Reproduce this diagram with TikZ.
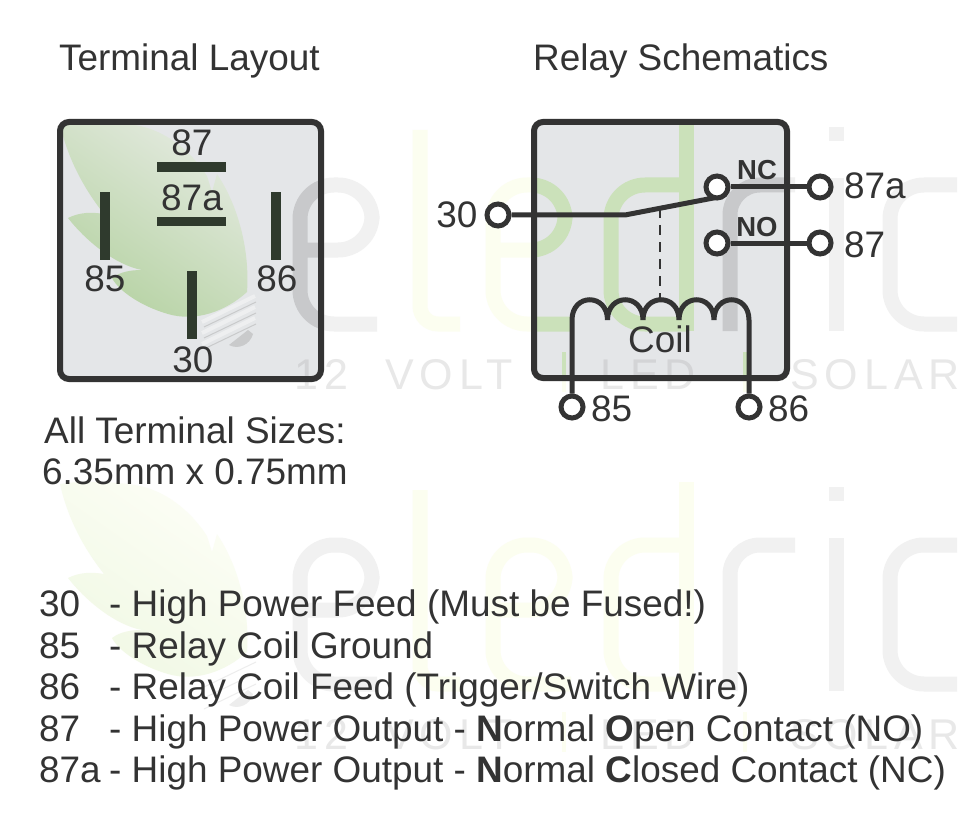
\documentclass[tikz,border=0pt]{standalone}
\usepackage{fontspec}
\setmainfont{Liberation Sans}
\usetikzlibrary{calc}
\definecolor{ink}{HTML}{333333}
\definecolor{pincol}{HTML}{2F3A2D}
\definecolor{boxfill}{HTML}{E4E6E8}
\definecolor{outgray}{HTML}{F1F1F1}
\definecolor{outgreen}{HTML}{FCFEF0}
\definecolor{outtext}{HTML}{E8E8E8}
\definecolor{outleafa}{HTML}{FDFEF6}
\definecolor{outleafb}{HTML}{F0F8E4}
\definecolor{outbulb}{HTML}{EDEDED}
\definecolor{ingray}{HTML}{C8C9CB}
\definecolor{ingreen}{HTML}{CBE1BA}
\definecolor{intext}{HTML}{D3D4D6}
\definecolor{inleafa}{HTML}{E4EAE0}
\definecolor{inleafb}{HTML}{B5D2A2}
\definecolor{instripe}{HTML}{EEEFF0}
\definecolor{inbulb}{HTML}{C9CACB}
\newcommand{\wmlayer}[8]{%
  % #1 gray, #2 green, #3 text, #4 leaf light, #5 leaf dark, #6 stripe, #7 bulb shade, #8 yshift
  \begin{scope}[yshift=#8]
    \shade[left color=#4,right color=#5,shading angle=-35]
       (60,124) .. controls (85,120) and (115,122) .. (135,125)
       .. controls (165,130) and (190,150) .. (207,176) -- (212,192) -- (217,174)
       .. controls (238,205) and (250,250) .. (247,292)
       .. controls (225,312) and (195,322) .. (168,314)
       .. controls (140,306) and (118,290) .. (112,278)
       .. controls (120,272) and (130,270) .. (142,270)
       .. controls (115,265) and (85,240) .. (68,218)
       .. controls (80,212) and (92,212) .. (104,214)
       .. controls (85,190) and (68,160) .. (60,124) -- cycle;
    \foreach \yy in {0,11,22}{
      \draw[#6,line width=4] (202,{322+\yy}) -- (255,{296+\yy});
      \draw[#7,line width=1] (204,{327+\yy}) -- (256,{302+\yy});}
    \fill[#7] (229,345) .. controls (238,350) and (250,345) .. (253,334) -- (248,330) -- cycle;
    \draw[#1,line width=15,rounded corners=34] (377,324) -| (300,185) -| (372,250) -- (300,250);
    \draw[#2,line width=15,rounded corners=18] (420,130) |- (460,324);
    \draw[#2,line width=15,rounded corners=34] (571,324) -| (493,185) -| (565,250) -- (493,250);
    \draw[#2,line width=15,rounded corners=34] (686,185) -| (611,324) -- (686,324);
    \draw[#2,line width=15] (686,122) -- (686,331);
    \draw[#1,line width=15,rounded corners=30] (730,331) |- (795,185);
    \draw[#1,line width=15] (836,178) -- (836,331);
    \draw[#1,line width=15] (836,127) -- (836,141);
    \draw[#1,line width=15,rounded corners=34] (957,185) -| (890,324) -- (957,324);
    \node[wmtext,text=#3] (#8a) at (294,389) {12};
    \node[wmtext,text=#3] (#8b) at (385,389) {VOLT};
    \draw[#2,line width=4] (564,352) -- (564,392);
    \node[wmtext,text=#3] (#8c) at (600,389) {LED};
    \draw[#2,line width=4] (745,352) -- (745,392);
    \node[wmtext,text=#3] (#8d) at (790,389) {SOLAR};
  \end{scope}}
\newcommand{\outerlayer}[1]{\wmlayer{outgray}{outgreen}{outtext}{outleafa}{outleafb}{white}{outbulb}{#1}}
\newcommand{\innerlayer}{\wmlayer{ingray}{ingreen}{intext}{inleafa}{inleafb}{instripe}{inbulb}{0pt}}
\tikzset{
  x=1pt,y=-1pt,
  wmtext/.style={font=\fontsize{43}{43}\selectfont\addfontfeature{LetterSpace=14},inner sep=0pt,anchor=base west},
  lab/.style={font=\fontsize{36.9}{37}\selectfont,text=ink,inner sep=0pt,anchor=base},
  labw/.style={lab,anchor=base west},
  tag/.style={font=\fontsize{27.5}{27.5}\selectfont\bfseries,text=ink,inner sep=0pt,anchor=base},
  panel/.style={draw=ink,line width=6,rounded corners=9},
  pin/.style={fill=pincol},
  term/.style={circle,draw=ink,line width=5,fill=white,minimum size=22,inner sep=0pt},
  wire/.style={draw=ink,line width=5},
}
\begin{document}
\begin{tikzpicture}
\useasboundingbox (0,0) rectangle (970,824);
\fill[white] (0,0) rectangle (970,824);
\outerlayer{0pt}
\outerlayer{-360pt}
\fill[boxfill,rounded corners=9] (60,122) rectangle (321,379);
\fill[boxfill,rounded corners=9] (534,122) rectangle (787,378);
\begin{scope}
  \clip[rounded corners=9] (60,122) rectangle (321,379);
  \innerlayer
\end{scope}
\begin{scope}
  \clip[rounded corners=9] (534,122) rectangle (787,378);
  \innerlayer
\end{scope}
\draw[panel] (60,122) rectangle (321,379);
\draw[panel] (534,122) rectangle (787,378);
% terminal layout
\fill[pin] (157,162) rectangle (226,172);
\fill[pin] (157,217) rectangle (226,226);
\fill[pin] (100,192) rectangle (110,260);
\fill[pin] (271,192) rectangle (281,260);
\fill[pin] (187,271) rectangle (197,339);
\node[lab] (tl87) at (192,155.5) {87};
\node[lab] (tl87a) at (192,210.5) {87a};
\node[lab] (tl85) at (105,291) {85};
\node[lab] (tl86) at (277,291) {86};
\node[lab] (tl30) at (193,372) {30};
\node[labw] (title1) at (59,71) {Terminal Layout};
\node[labw] (title2) at (533,71) {Relay Schematics};
\node[labw] (size1) at (44,443) {All Terminal Sizes:};
\node[labw] (size2) at (42,484) {6.35mm x 0.75mm};
% schematic
\node[term] (t30) at (498,215) {};
\node[term] (nc) at (717,187) {};
\node[term] (no) at (717,243) {};
\node[term] (t87a) at (820,187) {};
\node[term] (t87) at (820,243) {};
\node[term] (t85) at (572,407) {};
\node[term] (t86) at (749,407) {};
\coordinate (knee) at (625,215);
\coordinate (blade) at (716,197.5);
\coordinate (dashtop) at (660,208);
\coordinate (dashbot) at (660,302);
\path[wire,line join=round] (t30) -- (knee) -- (blade);
\path[wire] (nc) -- (t87a);
\path[wire] (no) -- (t87);
\draw[ink,line width=2,dash pattern=on 10 off 7] (dashtop) -- (dashbot);
\coordinate (c0) at (572,320);\coordinate (c1) at (607.5,320);\coordinate (c2) at (643,320);
\coordinate (c3) at (679,320);\coordinate (c4) at (714,320);\coordinate (c5) at (749,320);
\path[wire] (t85) -- (c0) .. controls (572,293) and (607.5,293) .. (c1)
  .. controls (607.5,293) and (643,293) .. (c2)
  .. controls (643,293) and (679,293) .. (c3)
  .. controls (679,293) and (714,293) .. (c4)
  .. controls (714,293) and (749,293) .. (c5) -- (t86);
\node[tag] (lnc) at (757,179) {NC};
\node[tag] (lno) at (757,236.5) {NO};
\node[lab] (coil) at (660,352) {Coil};
\node[lab] (l30) at (457,228) {30};
\node[labw] (l87a) at (844,199) {87a};
\node[labw] (l87) at (844,257) {87};
\node[labw] (l85) at (591,421) {85};
\node[labw] (l86) at (768,421) {86};
% legend
\foreach \n/\y/\k/\t in {
  a/616/30/{High Power Feed (Must be Fused!)},
  b/658/85/{Relay Coil Ground},
  c/699/86/{Relay Coil Feed (Trigger/Switch Wire)},
  d/741/87/{High Power Output - \textbf{N}ormal \textbf{O}pen Contact (NO)},
  e/782/87a/{High Power Output - \textbf{N}ormal \textbf{C}losed Contact (NC)}}{
  \node[labw] (k\n) at (39,\y) {\k};
  \node[labw] (d\n) at (109,\y) {- \t};
}
\end{tikzpicture}
\end{document}
